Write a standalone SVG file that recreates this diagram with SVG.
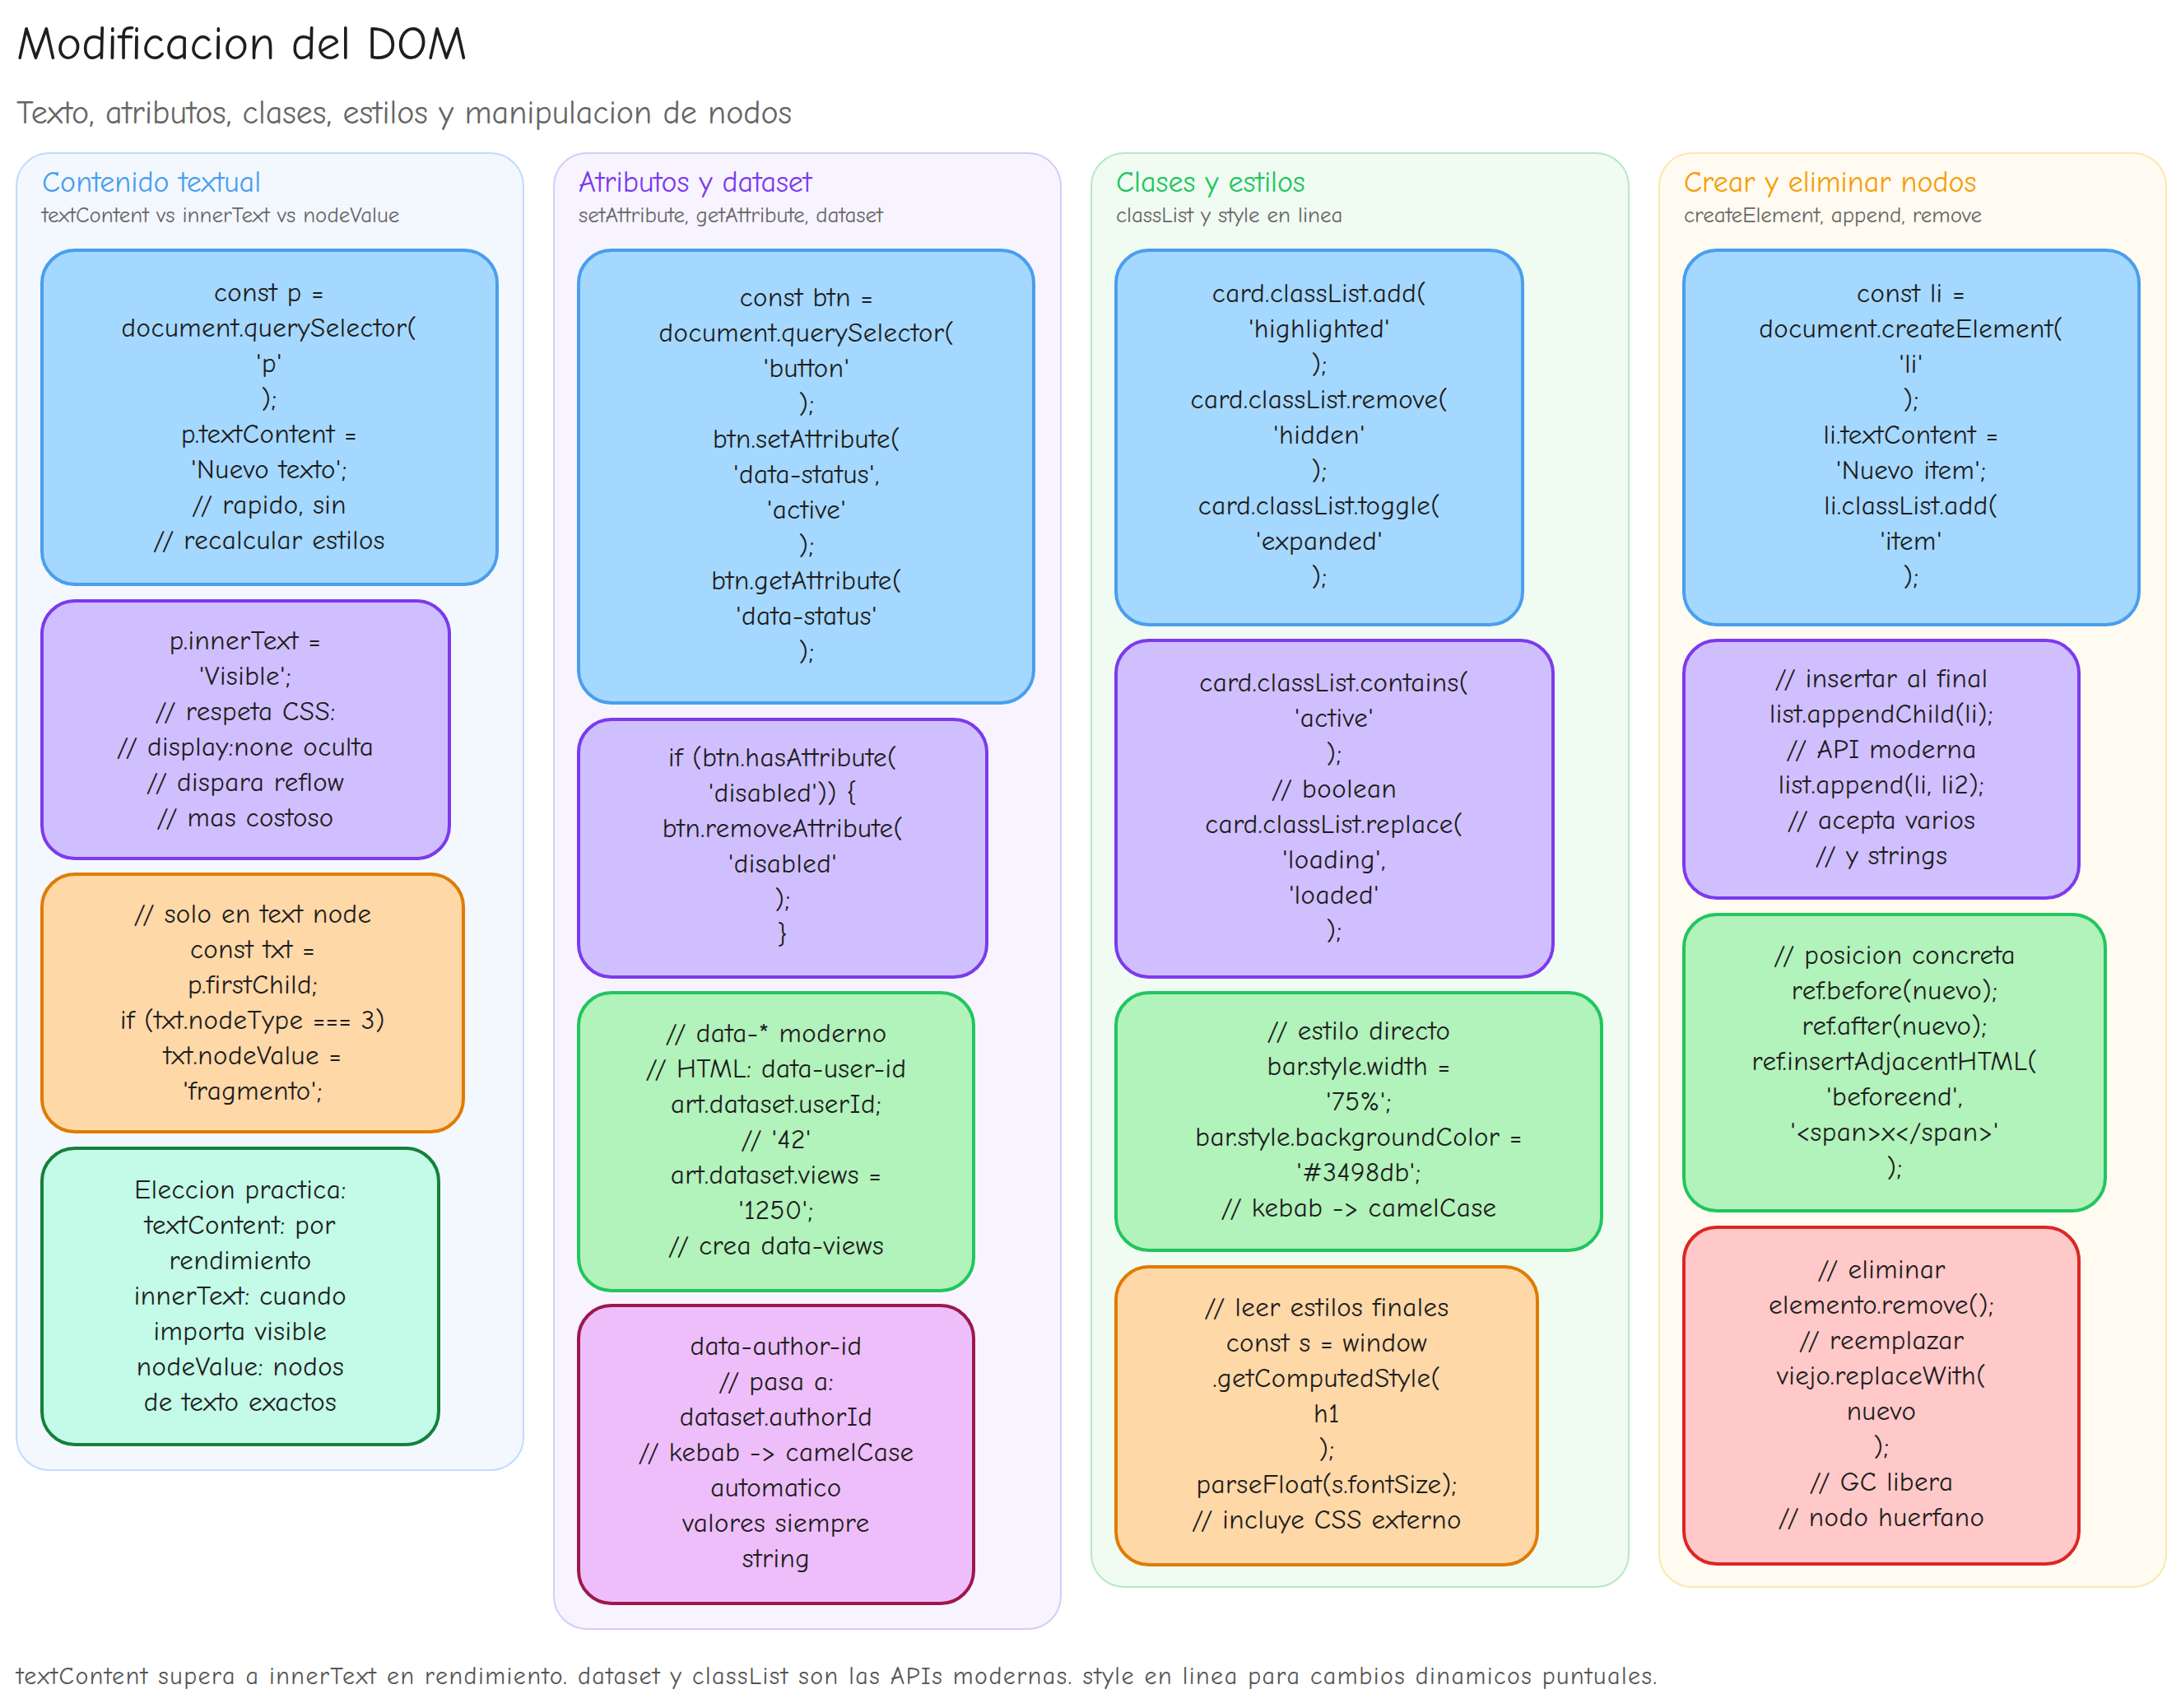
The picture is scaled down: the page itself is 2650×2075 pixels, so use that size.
<svg xmlns="http://www.w3.org/2000/svg" width="2650" height="2075" viewBox="0 0 2650 2075">
<style>
text{font-family:"Comic Neue","Lato","Liberation Sans",sans-serif;fill:#1e1e1e}
.t{font-size:33px;text-anchor:middle;letter-spacing:0.5px}
.col{stroke-width:2}
.n{stroke-width:4}
.h{font-size:36px}
.s{font-size:27px;fill:#666}
.blue{fill:#a5d8ff;stroke:#4a9eed}.purple{fill:#d0bfff;stroke:#7c3aed}.orange{fill:#ffd8a8;stroke:#e07b00}
.green{fill:#b2f2bb;stroke:#22c55e}.teal{fill:#c3fae8;stroke:#15803d}.mag{fill:#eebefa;stroke:#9d174d}.red{fill:#ffc9c9;stroke:#dc2626}
</style>
<rect width="2650" height="2075" fill="#fff"/>
<text x="20" y="72" font-size="58">Modificacion del DOM</text>
<text x="20" y="150" font-size="40" style="fill:#666">Texto, atributos, clases, estilos y manipulacion de nodos</text>

<g id="col1"><rect class="col" x="20" y="186" width="616" height="1600" rx="40" fill="#f3f8ff" stroke="#bfdbfe"/>
<text class="h" x="51" y="233" style="fill:#4a9eed">Contenido textual</text><text class="s" x="51" y="270">textContent vs innerText vs nodeValue</text></g>
<g id="col2"><rect class="col" x="673" y="186" width="616" height="1793" rx="40" fill="#f7f4ff" stroke="#d8c9fb"/>
<text class="h" x="703" y="233" style="fill:#7c3aed">Atributos y dataset</text><text class="s" x="703" y="270">setAttribute, getAttribute, dataset</text></g>
<g id="col3"><rect class="col" x="1326" y="186" width="653" height="1742" rx="40" fill="#f0fbf2" stroke="#b7e8c2"/>
<text class="h" x="1356" y="233" style="fill:#22c55e">Clases y estilos</text><text class="s" x="1356" y="270">classList y style en linea</text></g>
<g id="col4"><rect class="col" x="2016" y="186" width="616" height="1742" rx="40" fill="#fffbf0" stroke="#fde6b0"/>
<text class="h" x="2046" y="233" style="fill:#f59e0b">Crear y eliminar nodos</text><text class="s" x="2046" y="270">createElement, append, remove</text></g>

<g id="n1"><rect class="n blue" x="51" y="304" width="553" height="406" rx="40"/>
<text class="t" x="327" y="366"><tspan x="327">const p =</tspan><tspan x="327" dy="43">document.querySelector(</tspan><tspan x="327" dy="43">'p'</tspan><tspan x="327" dy="43">);</tspan><tspan x="327" dy="43">p.textContent =</tspan><tspan x="327" dy="43">'Nuevo texto';</tspan><tspan x="327" dy="43">// rapido, sin</tspan><tspan x="327" dy="43">// recalcular estilos</tspan></text></g>
<g id="n2"><rect class="n purple" x="51" y="730" width="495" height="313" rx="40"/>
<text class="t" x="298" y="789"><tspan x="298">p.innerText =</tspan><tspan x="298" dy="43">'Visible';</tspan><tspan x="298" dy="43">// respeta CSS:</tspan><tspan x="298" dy="43">// display:none oculta</tspan><tspan x="298" dy="43">// dispara reflow</tspan><tspan x="298" dy="43">// mas costoso</tspan></text></g>
<g id="n3"><rect class="n orange" x="51" y="1062" width="512" height="313" rx="40"/>
<text class="t" x="307" y="1121"><tspan x="307">// solo en text node</tspan><tspan x="307" dy="43">const txt =</tspan><tspan x="307" dy="43">p.firstChild;</tspan><tspan x="307" dy="43">if (txt.nodeType === 3)</tspan><tspan x="307" dy="43">txt.nodeValue =</tspan><tspan x="307" dy="43">'fragmento';</tspan></text></g>
<g id="n4"><rect class="n teal" x="51" y="1395" width="482" height="360" rx="40"/>
<text class="t" x="292" y="1456"><tspan x="292">Eleccion practica:</tspan><tspan x="292" dy="43">textContent: por</tspan><tspan x="292" dy="43">rendimiento</tspan><tspan x="292" dy="43">innerText: cuando</tspan><tspan x="292" dy="43">importa visible</tspan><tspan x="292" dy="43">nodeValue: nodos</tspan><tspan x="292" dy="43">de texto exactos</tspan></text></g>

<g id="n5"><rect class="n blue" x="703" y="304" width="553" height="550" rx="40"/>
<text class="t" x="980" y="372"><tspan x="980">const btn =</tspan><tspan x="980" dy="43">document.querySelector(</tspan><tspan x="980" dy="43">'button'</tspan><tspan x="980" dy="43">);</tspan><tspan x="980" dy="43">btn.setAttribute(</tspan><tspan x="980" dy="43">'data-status',</tspan><tspan x="980" dy="43">'active'</tspan><tspan x="980" dy="43">);</tspan><tspan x="980" dy="43">btn.getAttribute(</tspan><tspan x="980" dy="43">'data-status'</tspan><tspan x="980" dy="43">);</tspan></text></g>
<g id="n6"><rect class="n purple" x="703" y="874" width="496" height="313" rx="40"/>
<text class="t" x="951" y="931"><tspan x="951">if (btn.hasAttribute(</tspan><tspan x="951" dy="43">'disabled')) {</tspan><tspan x="951" dy="43">btn.removeAttribute(</tspan><tspan x="951" dy="43">'disabled'</tspan><tspan x="951" dy="43">);</tspan><tspan x="951" dy="43">}</tspan></text></g>
<g id="n7"><rect class="n green" x="703" y="1206" width="480" height="362" rx="40"/>
<text class="t" x="943" y="1266"><tspan x="943">// data-* moderno</tspan><tspan x="943" dy="43">// HTML: data-user-id</tspan><tspan x="943" dy="43">art.dataset.userId;</tspan><tspan x="943" dy="43">// '42'</tspan><tspan x="943" dy="43">art.dataset.views =</tspan><tspan x="943" dy="43">'1250';</tspan><tspan x="943" dy="43">// crea data-views</tspan></text></g>
<g id="n8"><rect class="n mag" x="703" y="1586" width="480" height="362" rx="40"/>
<text class="t" x="943" y="1646"><tspan x="943">data-author-id</tspan><tspan x="943" dy="43">// pasa a:</tspan><tspan x="943" dy="43">dataset.authorId</tspan><tspan x="943" dy="43">// kebab -&gt; camelCase</tspan><tspan x="943" dy="43">automatico</tspan><tspan x="943" dy="43">valores siempre</tspan><tspan x="943" dy="43">string</tspan></text></g>

<g id="n9"><rect class="n blue" x="1356" y="304" width="494" height="455" rx="40"/>
<text class="t" x="1603" y="367"><tspan x="1603">card.classList.add(</tspan><tspan x="1603" dy="43">'highlighted'</tspan><tspan x="1603" dy="43">);</tspan><tspan x="1603" dy="43">card.classList.remove(</tspan><tspan x="1603" dy="43">'hidden'</tspan><tspan x="1603" dy="43">);</tspan><tspan x="1603" dy="43">card.classList.toggle(</tspan><tspan x="1603" dy="43">'expanded'</tspan><tspan x="1603" dy="43">);</tspan></text></g>
<g id="n10"><rect class="n purple" x="1356" y="778" width="531" height="409" rx="40"/>
<text class="t" x="1621" y="840"><tspan x="1621">card.classList.contains(</tspan><tspan x="1621" dy="43">'active'</tspan><tspan x="1621" dy="43">);</tspan><tspan x="1621" dy="43">// boolean</tspan><tspan x="1621" dy="43">card.classList.replace(</tspan><tspan x="1621" dy="43">'loading',</tspan><tspan x="1621" dy="43">'loaded'</tspan><tspan x="1621" dy="43">);</tspan></text></g>
<g id="n11"><rect class="n green" x="1356" y="1206" width="590" height="313" rx="40"/>
<text class="t" x="1651" y="1263"><tspan x="1651">// estilo directo</tspan><tspan x="1651" dy="43">bar.style.width =</tspan><tspan x="1651" dy="43">'75%';</tspan><tspan x="1651" dy="43">bar.style.backgroundColor =</tspan><tspan x="1651" dy="43">'#3498db';</tspan><tspan x="1651" dy="43">// kebab -&gt; camelCase</tspan></text></g>
<g id="n12"><rect class="n orange" x="1356" y="1539" width="512" height="362" rx="40"/>
<text class="t" x="1612" y="1599"><tspan x="1612">// leer estilos finales</tspan><tspan x="1612" dy="43">const s = window</tspan><tspan x="1612" dy="43">.getComputedStyle(</tspan><tspan x="1612" dy="43">h1</tspan><tspan x="1612" dy="43">);</tspan><tspan x="1612" dy="43">parseFloat(s.fontSize);</tspan><tspan x="1612" dy="43">// incluye CSS externo</tspan></text></g>

<g id="n13"><rect class="n blue" x="2046" y="304" width="553" height="455" rx="40"/>
<text class="t" x="2322" y="367"><tspan x="2322">const li =</tspan><tspan x="2322" dy="43">document.createElement(</tspan><tspan x="2322" dy="43">'li'</tspan><tspan x="2322" dy="43">);</tspan><tspan x="2322" dy="43">li.textContent =</tspan><tspan x="2322" dy="43">'Nuevo item';</tspan><tspan x="2322" dy="43">li.classList.add(</tspan><tspan x="2322" dy="43">'item'</tspan><tspan x="2322" dy="43">);</tspan></text></g>
<g id="n14"><rect class="n purple" x="2046" y="778" width="480" height="313" rx="40"/>
<text class="t" x="2286" y="835"><tspan x="2286">// insertar al final</tspan><tspan x="2286" dy="43">list.appendChild(li);</tspan><tspan x="2286" dy="43">// API moderna</tspan><tspan x="2286" dy="43">list.append(li, li2);</tspan><tspan x="2286" dy="43">// acepta varios</tspan><tspan x="2286" dy="43">// y strings</tspan></text></g>
<g id="n15"><rect class="n green" x="2046" y="1111" width="512" height="360" rx="40"/>
<text class="t" x="2302" y="1171"><tspan x="2302">// posicion concreta</tspan><tspan x="2302" dy="43">ref.before(nuevo);</tspan><tspan x="2302" dy="43">ref.after(nuevo);</tspan><tspan x="2302" dy="43">ref.insertAdjacentHTML(</tspan><tspan x="2302" dy="43">'beforeend',</tspan><tspan x="2302" dy="43">'&lt;span&gt;x&lt;/span&gt;'</tspan><tspan x="2302" dy="43">);</tspan></text></g>
<g id="n16"><rect class="n red" x="2046" y="1491" width="480" height="409" rx="40"/>
<text class="t" x="2286" y="1553"><tspan x="2286">// eliminar</tspan><tspan x="2286" dy="43">elemento.remove();</tspan><tspan x="2286" dy="43">// reemplazar</tspan><tspan x="2286" dy="43">viejo.replaceWith(</tspan><tspan x="2286" dy="43">nuevo</tspan><tspan x="2286" dy="43">);</tspan><tspan x="2286" dy="43">// GC libera</tspan><tspan x="2286" dy="43">// nodo huerfano</tspan></text></g>
<g id="connectors"></g>
<text x="20" y="2046" font-size="30" letter-spacing="1.5" style="fill:#555">textContent supera a innerText en rendimiento. dataset y classList son las APIs modernas. style en linea para cambios dinamicos puntuales.</text>
</svg>
